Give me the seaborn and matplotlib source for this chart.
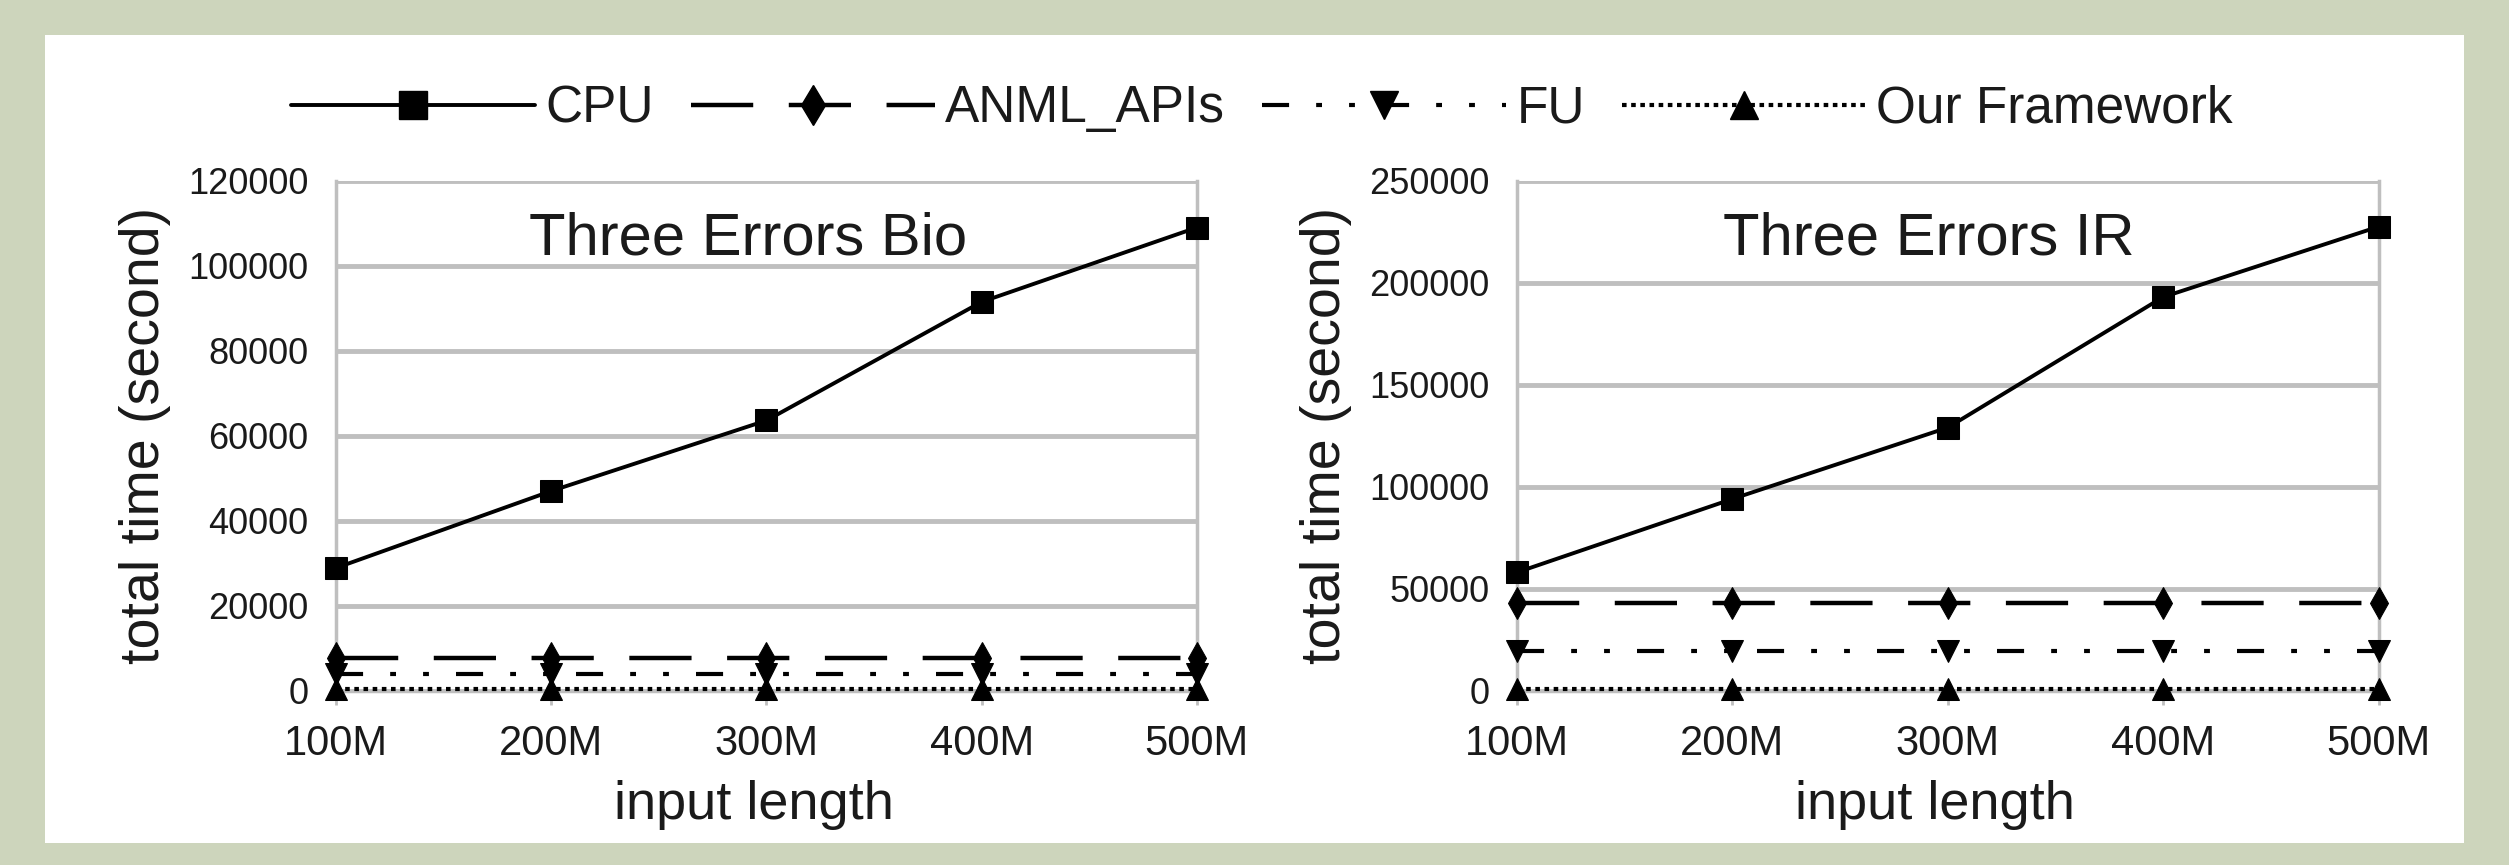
import pandas as pd
import seaborn as sns
import matplotlib.pyplot as plt
from matplotlib.lines import Line2D
from matplotlib.patches import Rectangle
from matplotlib.ticker import StrMethodFormatter

# data
lengths = ["100M", "200M", "300M", "400M", "500M"]
series = ["CPU", "ANML_APIs", "FU", "Our Framework"]

bio_cpu = [28900, 47000, 63600, 91500, 109000]
bio_anml = [7800, 7800, 7800, 7800, 7800]
bio_fu = [3900, 3900, 3900, 3900, 3900]
bio_ours = [300, 300, 300, 300, 300]

ir_cpu = [58000, 94000, 129000, 193000, 227500]
ir_anml = [42800, 42800, 42800, 42800, 42800]
ir_fu = [19300, 19300, 19300, 19300, 19300]
ir_ours = [800, 800, 800, 800, 800]

panels = [
    ("Three Errors Bio", [bio_cpu, bio_anml, bio_fu, bio_ours], 120000, 20000),
    ("Three Errors IR", [ir_cpu, ir_anml, ir_fu, ir_ours], 250000, 50000),
]

markers = {"CPU": "s", "ANML_APIs": "d", "FU": "v", "Our Framework": "^"}
dashes = {"CPU": "", "ANML_APIs": (14, 8), "FU": (6.5, 6.5, 1.4, 6.5, 1.4, 6.5),
          "Our Framework": (1.1, 1.1)}
widths = {"CPU": 2.8, "ANML_APIs": 3.2, "FU": 3, "Our Framework": 3}

sns.set_style("white")
plt.rcParams["font.family"] = ["Liberation Sans", "DejaVu Sans"]

fig = plt.figure(figsize=(25.09, 8.65), dpi=100)
fig.patch.set_facecolor("#CDD5BC")
fig.patches.append(Rectangle((0.018, 0.026), 0.964, 0.933, transform=fig.transFigure,
                             facecolor="white", edgecolor="none", zorder=-10))

grid_c = "#bfbfbf"
text_c = "#1a1a1a"
positions = [[0.134, 0.2015, 0.343, 0.5895], [0.6046, 0.2015, 0.3434, 0.5895]]

for (title, vals, ymax, step), pos in zip(panels, positions):
    ax = fig.add_axes(pos)
    ax.patch.set_alpha(0)
    rows = []
    for name, v in zip(series, vals):
        for x, y in zip(lengths, v):
            rows.append({"length": x, "time": y, "series": name})
    df = pd.DataFrame(rows)
    for name in series:
        sub = df[df["series"] == name]
        sns.lineplot(data=sub, x="length", y="time", ax=ax, color="black",
                     marker=markers[name], markersize=16, markeredgecolor="black",
                     linewidth=widths[name], clip_on=False, zorder=3, legend=False)
        line = ax.get_lines()[-1]
        if dashes[name]:
            line.set_dashes(dashes[name])
        else:
            line.set_linestyle("-")
    ax.set_xlim(0, len(lengths) - 1)
    ax.set_ylim(0, ymax)
    ax.set_yticks(range(0, ymax + 1, step))
    ax.yaxis.set_major_formatter(StrMethodFormatter("{x:.0f}"))
    ax.yaxis.grid(True, color=grid_c, linewidth=3.5)
    ax.set_axisbelow(True)
    ax.spines["top"].set_visible(False)
    for s in ["left", "right", "bottom"]:
        ax.spines[s].set_color(grid_c)
        ax.spines[s].set_linewidth(2.5)
    ax.tick_params(axis="y", length=0, pad=20, labelsize=26, labelcolor=text_c)
    ax.tick_params(axis="x", length=10, width=2, color=grid_c, pad=14,
                   labelsize=30, labelcolor=text_c, bottom=True)
    ax.set_xlabel("input length", fontsize=39, labelpad=2, color=text_c)
    ax.xaxis.set_label_coords(0.485, -0.175)
    ax.set_ylabel("total time (second)", fontsize=40, labelpad=12, color=text_c)
    ax.text(0.478, 0.885, title, transform=ax.transAxes, ha="center", va="center",
            fontsize=43, color=text_c)

handles = []
for name in series:
    h = Line2D([], [], color="black", marker=markers[name], markersize=20,
               linewidth=widths[name])
    if dashes[name]:
        h.set_dashes(dashes[name])
    handles.append(h)
fig.legend(handles, series, loc="center", bbox_to_anchor=(0.503, 0.874), ncol=4,
           frameon=False, fontsize=37, handlelength=4.75, handletextpad=0.2,
           columnspacing=0.72, labelcolor=text_c)

fig.savefig("out.png", dpi=100, facecolor=fig.get_facecolor())
